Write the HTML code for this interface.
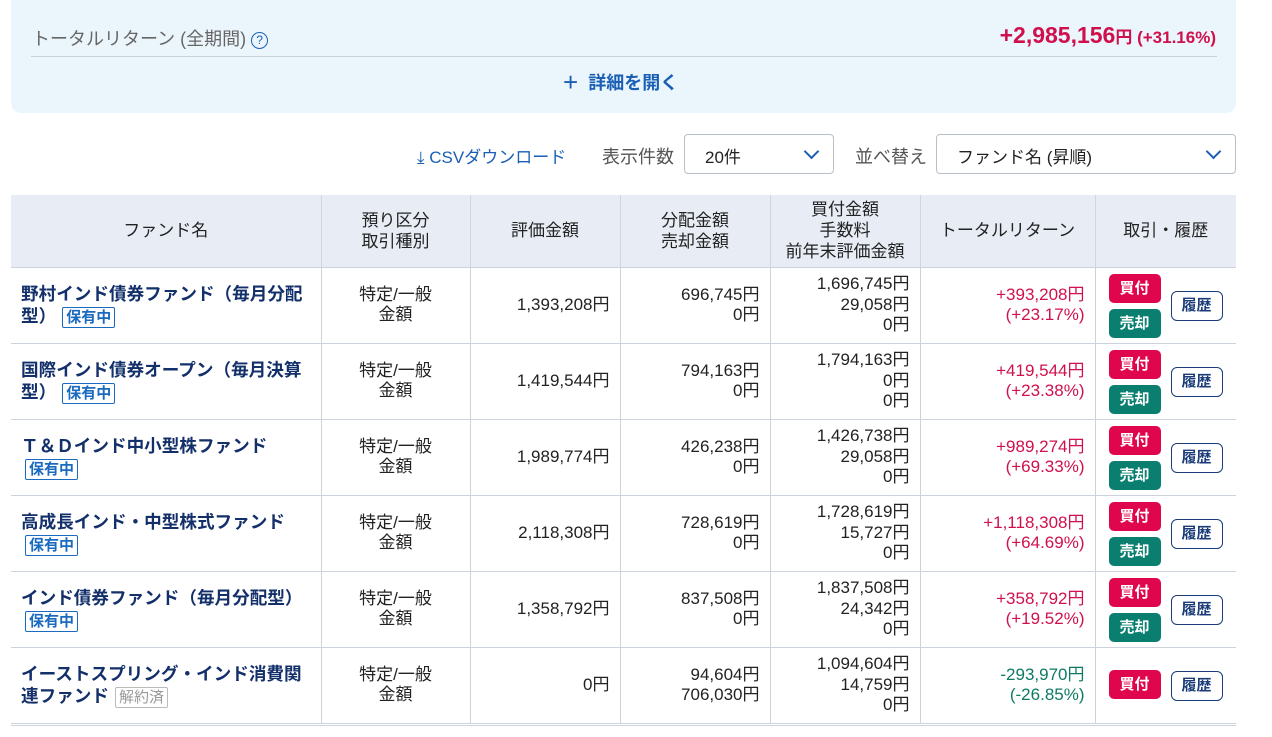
<!DOCTYPE html>
<html><head><meta charset="utf-8"><style>
*{box-sizing:border-box;margin:0;padding:0}
body{width:1272px;height:737px;background:#fff;font-family:"Liberation Sans","Noto Sans CJK JP",sans-serif;color:#222;position:relative;overflow:hidden;font-size:16px}
.a{position:absolute;white-space:nowrap}
.top{position:absolute;left:11px;top:0;width:1225px;height:113px;background:#eaf6fc;border-radius:0 0 10px 10px}
.sel{position:absolute;height:40px;border:1px solid #b8bfc8;border-radius:4px;background:#fff;font-size:17px;padding:8px 0 0 20px}
.chev{position:absolute;right:16px;top:11px;width:11px;height:11px;border-right:2px solid #1a5fb4;border-bottom:2px solid #1a5fb4;transform:rotate(45deg)}
table{position:absolute;left:11px;top:195px;border-collapse:collapse;width:1225px;table-layout:fixed}
th{background:#e8edf5;font-weight:normal;font-size:17px;line-height:21px;height:72px;border-left:1px solid #d0d6e0;text-align:center}
th:first-child{border-left:none}
td{border-top:1px solid #cdd3dc;border-left:1px solid #cdd3dc;height:75px;font-size:17px;line-height:20.5px;vertical-align:middle}
td:first-child{border-left:none}
tr:last-child td{height:74px;border-bottom:1px solid #cdd3dc}
.n{color:#13306a;font-weight:bold;padding-left:10px;font-size:17.6px;line-height:22px}
.c{text-align:center}
.r{text-align:right;padding-right:10px}
.red{color:#d0104c}.grn{color:#0e7a64}
.tag{display:inline-block;border:1px solid #1a6ac0;color:#1a6ac0;font-size:15px;line-height:19px;padding:0 3px;border-radius:2px;margin-left:6px;font-weight:bold}
.tg{border-color:#bbb;color:#999;font-weight:normal}
.btns{position:relative;height:75px}
.b{position:absolute;left:13px;width:52px;height:29px;border-radius:5px;color:#fff;font-weight:bold;font-size:15px;text-align:center;line-height:29px}
.buy{background:#e0064d}.sell{background:#0a7f70}
.h{position:absolute;left:75px;top:23px;width:52px;height:30px;border:1.5px solid #1c3d7a;border-radius:6px;color:#1c3d7a;font-weight:bold;font-size:15px;text-align:center;line-height:27px}
</style></head><body>
<div class="top"></div>
<div class="a" style="left:32px;top:25px;font-size:18px;color:#666">トータルリターン (全期間) <span style="display:inline-block;width:17px;height:17px;border:1.5px solid #1a5fb4;border-radius:50%;color:#1a5fb4;font-size:12px;text-align:center;line-height:14px;vertical-align:1px">?</span></div>
<div class="a" style="right:56px;top:22px;color:#d0104c;font-weight:bold;font-size:23px">+2,985,156<span style="font-size:17px">円 (+31.16%)</span></div>
<div class="a" style="left:31px;top:56px;width:1186px;height:1px;background:#c8d0da"></div>
<div class="a" style="left:563px;top:67px;color:#1a5fb4;font-weight:bold;font-size:18px"><span style="font-size:26px;font-weight:normal;vertical-align:-2px">+</span>&nbsp; 詳細を開く</div>
<div class="a" style="left:417px;top:143px;color:#1a5fb4;font-size:17px">⤓ CSVダウンロード</div>
<div class="a" style="left:602px;top:143px;color:#555;font-size:18px">表示件数</div>
<div class="sel" style="left:684px;top:134px;width:150px">20件<div class="chev"></div></div>
<div class="a" style="left:855px;top:143px;color:#555;font-size:18px">並べ替え</div>
<div class="sel" style="left:936px;top:134px;width:300px">ファンド名 (昇順)<div class="chev"></div></div>
<table>
<colgroup><col style="width:310px"><col style="width:149px"><col style="width:150px"><col style="width:150px"><col style="width:150px"><col style="width:175px"><col style="width:141px"></colgroup>
<tr><th>ファンド名</th><th>預り区分<br>取引種別</th><th>評価金額</th><th>分配金額<br>売却金額</th><th>買付金額<br>手数料<br>前年末評価金額</th><th>トータルリターン</th><th>取引・履歴</th></tr>
<tr><td class="n">野村インド債券ファンド（毎月分配<br>型）<span class="tag">保有中</span></td><td class="c">特定/一般<br>金額</td><td class="r">1,393,208円</td><td class="r">696,745円<br>0円</td><td class="r">1,696,745円<br>29,058円<br>0円</td><td class="r red">+393,208円<br>(+23.17%)</td><td><div class="btns"><div class="b buy" style="top:6px">買付</div><div class="b sell" style="top:41px">売却</div><div class="h">履歴</div></div></td></tr>
<tr><td class="n">国際インド債券オープン（毎月決算<br>型）<span class="tag">保有中</span></td><td class="c">特定/一般<br>金額</td><td class="r">1,419,544円</td><td class="r">794,163円<br>0円</td><td class="r">1,794,163円<br>0円<br>0円</td><td class="r red">+419,544円<br>(+23.38%)</td><td><div class="btns"><div class="b buy" style="top:6px">買付</div><div class="b sell" style="top:41px">売却</div><div class="h">履歴</div></div></td></tr>
<tr><td class="n">Ｔ＆Ｄインド中小型株ファンド<br><span class="tag" style="margin-left:4px">保有中</span></td><td class="c">特定/一般<br>金額</td><td class="r">1,989,774円</td><td class="r">426,238円<br>0円</td><td class="r">1,426,738円<br>29,058円<br>0円</td><td class="r red">+989,274円<br>(+69.33%)</td><td><div class="btns"><div class="b buy" style="top:6px">買付</div><div class="b sell" style="top:41px">売却</div><div class="h">履歴</div></div></td></tr>
<tr><td class="n">高成長インド・中型株式ファンド<br><span class="tag" style="margin-left:4px">保有中</span></td><td class="c">特定/一般<br>金額</td><td class="r">2,118,308円</td><td class="r">728,619円<br>0円</td><td class="r">1,728,619円<br>15,727円<br>0円</td><td class="r red">+1,118,308円<br>(+64.69%)</td><td><div class="btns"><div class="b buy" style="top:6px">買付</div><div class="b sell" style="top:41px">売却</div><div class="h">履歴</div></div></td></tr>
<tr><td class="n">インド債券ファンド（毎月分配型）<br><span class="tag" style="margin-left:4px">保有中</span></td><td class="c">特定/一般<br>金額</td><td class="r">1,358,792円</td><td class="r">837,508円<br>0円</td><td class="r">1,837,508円<br>24,342円<br>0円</td><td class="r red">+358,792円<br>(+19.52%)</td><td><div class="btns"><div class="b buy" style="top:6px">買付</div><div class="b sell" style="top:41px">売却</div><div class="h">履歴</div></div></td></tr>
<tr><td class="n">イーストスプリング・インド消費関<br>連ファンド<span class="tag tg">解約済</span></td><td class="c">特定/一般<br>金額</td><td class="r">0円</td><td class="r">94,604円<br>706,030円</td><td class="r">1,094,604円<br>14,759円<br>0円</td><td class="r grn">-293,970円<br>(-26.85%)</td><td><div class="btns"><div class="b buy" style="top:22px">買付</div><div class="h">履歴</div></div></td></tr>
</table>
<div class="a" style="left:11px;top:725px;width:1225px;height:1px;background:#cdd3dc"></div>
</body></html>
